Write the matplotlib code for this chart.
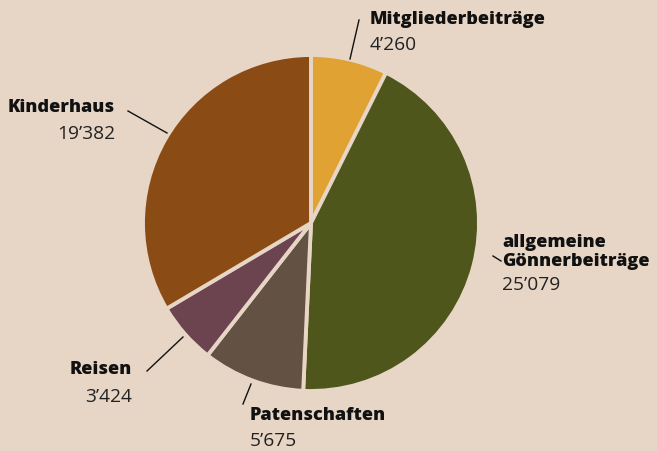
import matplotlib
matplotlib.use("Agg")
import matplotlib.pyplot as plt

categories = ["Mitgliederbeiträge", "allgemeine\nGönnerbeiträge", "Patenschaften", "Reisen", "Kinderhaus"]
values = [4260, 25079, 5675, 3424, 19382]
value_labels = ["4’260", "25’079", "5’675", "3’424", "19’382"]
colors = ["#E0A232", "#4E561C", "#635244", "#6C4450", "#8A4B15"]

BG = "#E7D6C6"
W, H = 657, 452
fig = plt.figure(figsize=(W / 100, H / 100), dpi=100, facecolor=BG)
ax = fig.add_axes([0, 0, 1, 1])
ax.set_facecolor(BG)

cx, cy, r = 311, H - 224, 168
ax.pie(values, colors=colors, startangle=90, counterclock=False,
       center=(cx, cy), radius=r, frame=True,
       wedgeprops=dict(edgecolor=BG, linewidth=2.8))
ax.set_xlim(0, W)
ax.set_ylim(0, H)
ax.set_aspect("equal")
ax.axis("off")

fam = ["Open Sans", "DejaVu Sans"]
# label layout: (text x, title y, value y, ha, line)
layout = [
    (370, 20, 45, "left", ((350, 60), (359, 21))),
    (502, 252, 285, "left", ((493, 257), (501, 262))),
    (250, 416, 441, "left", ((243, 405), (251, 385))),
    (132, 370, 397, "right", ((147, 372), (183, 338))),
    (115, 107, 134, "right", ((128, 112), (167, 134))),
]
for cat, vl, (tx, ty, vy, ha, line) in zip(categories, value_labels, layout):
    ax.text(tx, H - ty, cat, ha=ha, va="center", fontsize=13.1, fontweight=800,
            family=fam, color="#111111", linespacing=1.12)
    ax.text(tx, H - vy, vl, ha=ha, va="center", fontsize=13.8,
            family=fam, color="#222222")
    (x0, y0), (x1, y1) = line
    ax.plot([x0, x1], [H - y0, H - y1], color="#111111", lw=1.0)

fig.savefig("out.png", dpi=100, facecolor=BG)
